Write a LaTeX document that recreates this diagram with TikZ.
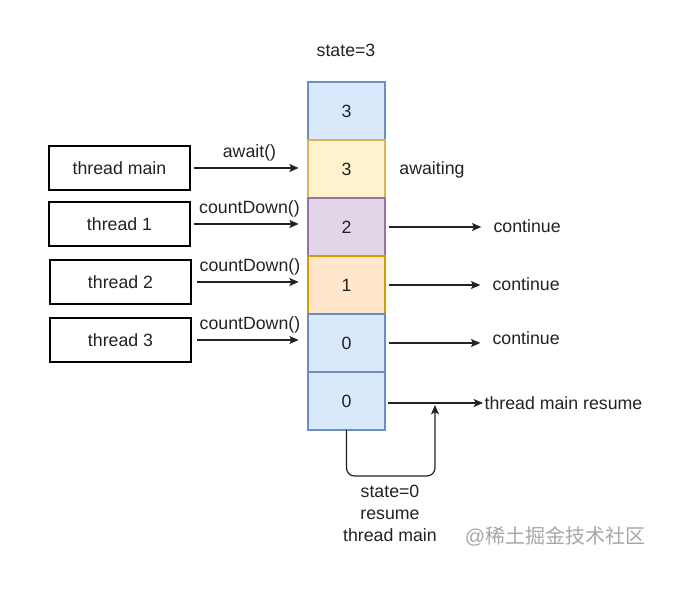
\documentclass[tikz,border=0pt]{standalone}
\usepackage{fontspec}
\setmainfont{Liberation Sans}
\newfontfamily\cjk{Noto Sans CJK SC}
\usetikzlibrary{arrows.meta,positioning}
\definecolor{blueF}{HTML}{DAE8FC}\definecolor{blueD}{HTML}{6C8EBF}
\definecolor{yelF}{HTML}{FFF2CC}\definecolor{yelD}{HTML}{D6B656}
\definecolor{purF}{HTML}{E1D5E7}\definecolor{purD}{HTML}{9673A6}
\definecolor{orgF}{HTML}{FFE6CC}\definecolor{orgD}{HTML}{D79B00}
\definecolor{ink}{HTML}{222222}

\begin{document}
\begin{tikzpicture}[x=0.75pt, y=-0.75pt,
    font=\fontsize{13.3}{16}\selectfont, text=ink,
    cell/.style   = {draw, line width=1.1pt, outer sep=0pt,
                     minimum width=57.75pt, minimum height=43.5pt},
    thread/.style = {draw, line width=1.4pt, minimum width=105.75pt,
                     minimum height=33pt},
    lbl/.style    = {inner sep=1pt},
    arr/.style    = {-{Stealth[length=7pt,width=6pt,inset=1.5pt]}, line width=0.9pt, draw=ink},
]
\useasboundingbox (0,0) rectangle (697,609);
% state stack
\node[cell, fill=blueF, draw=blueD] (c1) at (346.5,111) {3};
\node[cell, fill=yelF, draw=yelD, below=0pt of c1] (c2) {3};
\node[cell, fill=purF, draw=purD, below=0pt of c2] (c3) {2};
\node[cell, fill=orgF, draw=orgD, below=0pt of c3] (c4) {1};
\node[cell, fill=blueF, draw=blueD, below=0pt of c4] (c5) {0};
\node[cell, fill=blueF, draw=blueD, below=0pt of c5] (c6) {0};
\node[lbl] (st3) at (346,50) {state=3};
\node[lbl] (awt) at (432,170) {awaiting};
% threads
\node[thread] (tm) at (119.5,168) {thread main};
\node[thread] (t1) at (119.5,224) {thread 1};
\node[thread] (t2) at (120.5,282) {thread 2};
\node[thread] (t3) at (120.5,340) {thread 3};
\draw[arr, shorten <=2pt, shorten >=7pt] (tm.east) -- node[above=1pt]{await()} (c2.west |- tm.east);
\draw[arr, shorten <=2pt, shorten >=7pt] (t1.east) -- node[above=1pt]{countDown()} (c3.west |- t1.east);
\draw[arr, shorten <=4pt, shorten >=7pt] (t2.east) -- node[above=1pt]{countDown()} (c4.west |- t2.east);
\draw[arr, shorten <=4pt, shorten >=7pt] (t3.east) -- node[above=1pt]{countDown()} (c5.west |- t3.east);
% results
\node[lbl, anchor=west] (go1) at (492,226) {continue};
\node[lbl, anchor=west] (go2) at (491,284) {continue};
\node[lbl, anchor=west] (go3) at (491,338) {continue};
\node[lbl, anchor=west] (res) at (483,403) {thread main resume};
\draw[arr, shorten <=3pt, shorten >=8pt] (c3.east) -- (go1.west |- c3.east);
\draw[arr, shorten <=3pt, shorten >=8pt] (c4.east) -- (go2.west |- c4.east);
\draw[arr, shorten <=3pt, shorten >=8pt] (c5.east) -- (go3.west |- c5.east);
\draw[arr, shorten <=2pt] (c6.east |- res.west) -- (res.west);
% wake-up loop
\coordinate (loopbot) at (435,476);
\coordinate (loopend) at (435,405);
\draw[arr, rounded corners=6pt] (c6.south) |- (loopbot) -- (loopend);
\node[lbl, align=center, font=\fontsize{13.3}{16.5}\selectfont] (wake) at (390,513)
     {state=0\\resume\\thread main};
\node[lbl, text=black!35] (mark) at (555,536) {\fontsize{15}{17}\selectfont @\cjk 稀土掘金技术社区};
\end{tikzpicture}
\end{document}
